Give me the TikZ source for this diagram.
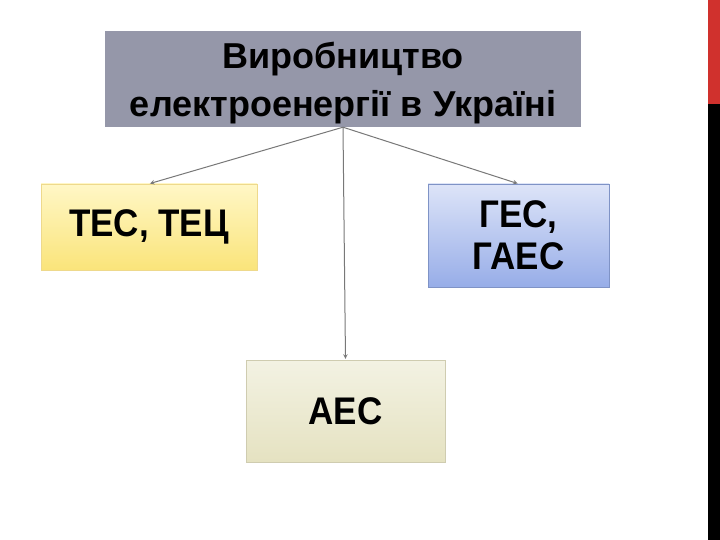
\documentclass[tikz,border=0pt]{standalone}
\usepackage{fontspec}
\setmainfont{Liberation Sans}
\usepackage{xcolor}
\usepackage{graphicx}
\usepackage{tikz}

\definecolor{titlegray}{HTML}{9597A9}
\definecolor{sidered}{HTML}{D0312D}
\definecolor{linegray}{HTML}{787878}
\definecolor{tesTop}{HTML}{FFF7C6}
\definecolor{tesBot}{HTML}{FAE47A}
\definecolor{tesLine}{HTML}{EED98C}
\definecolor{gesTop}{HTML}{DDE4F8}
\definecolor{gesBot}{HTML}{97ADE8}
\definecolor{gesLine}{HTML}{7F93C6}
\definecolor{aesTop}{HTML}{F3F2E3}
\definecolor{aesBot}{HTML}{E5E2C1}
\definecolor{aesLine}{HTML}{CFCCB0}

\newcommand\tallword[1]{\scalebox{1}[1.1]{#1}}

\begin{document}
\begin{tikzpicture}[x=1pt, y=-1pt,
    box/.style={minimum width=#1, inner sep=0pt, align=center, font=\bfseries\fontsize{35}{42}\selectfont},
    link/.style={->, >=stealth, color=linegray, line width=1pt, shorten >=1pt}]
    \useasboundingbox (0,0) rectangle (720,540);
    \fill[white] (0,0) rectangle (720,540);

    % Side bar
    \fill[black] (708,0) rectangle (720,540);
    \fill[sidered] (708,0) rectangle (720,104);

    % Root
    \node[box=476pt, minimum height=94pt, fill=titlegray, font=\bfseries\fontsize{36}{48}\selectfont]
        (title) at (343,79) {\raisebox{-4pt}[\height][\depth]{\begin{tabular}{@{}c@{}}Виробництво\\електроенергії в Україні\end{tabular}}};

    % Stations
    \node[box=216pt, minimum height=86pt, draw=tesLine, top color=tesTop, bottom color=tesBot]
        (tes) at (149,227) {\tallword{ТЕС, ТЕЦ}};
    \node[box=181pt, minimum height=103pt, draw=gesLine, top color=gesTop, bottom color=gesBot]
        (ges) at (518.5,235.5) {\tallword{ГЕС,}\\\tallword{ГАЕС}};
    \node[box=199pt, minimum height=102pt, draw=aesLine, top color=aesTop, bottom color=aesBot]
        (aes) at (345.5,411) {\tallword{АЕС}};

    % Arrows
    \draw[link] (title.south) -- (tes.north);
    \draw[link] (title.south) -- (ges.north);
    \draw[link] (title.south) -- (aes.north);
\end{tikzpicture}
\end{document}
